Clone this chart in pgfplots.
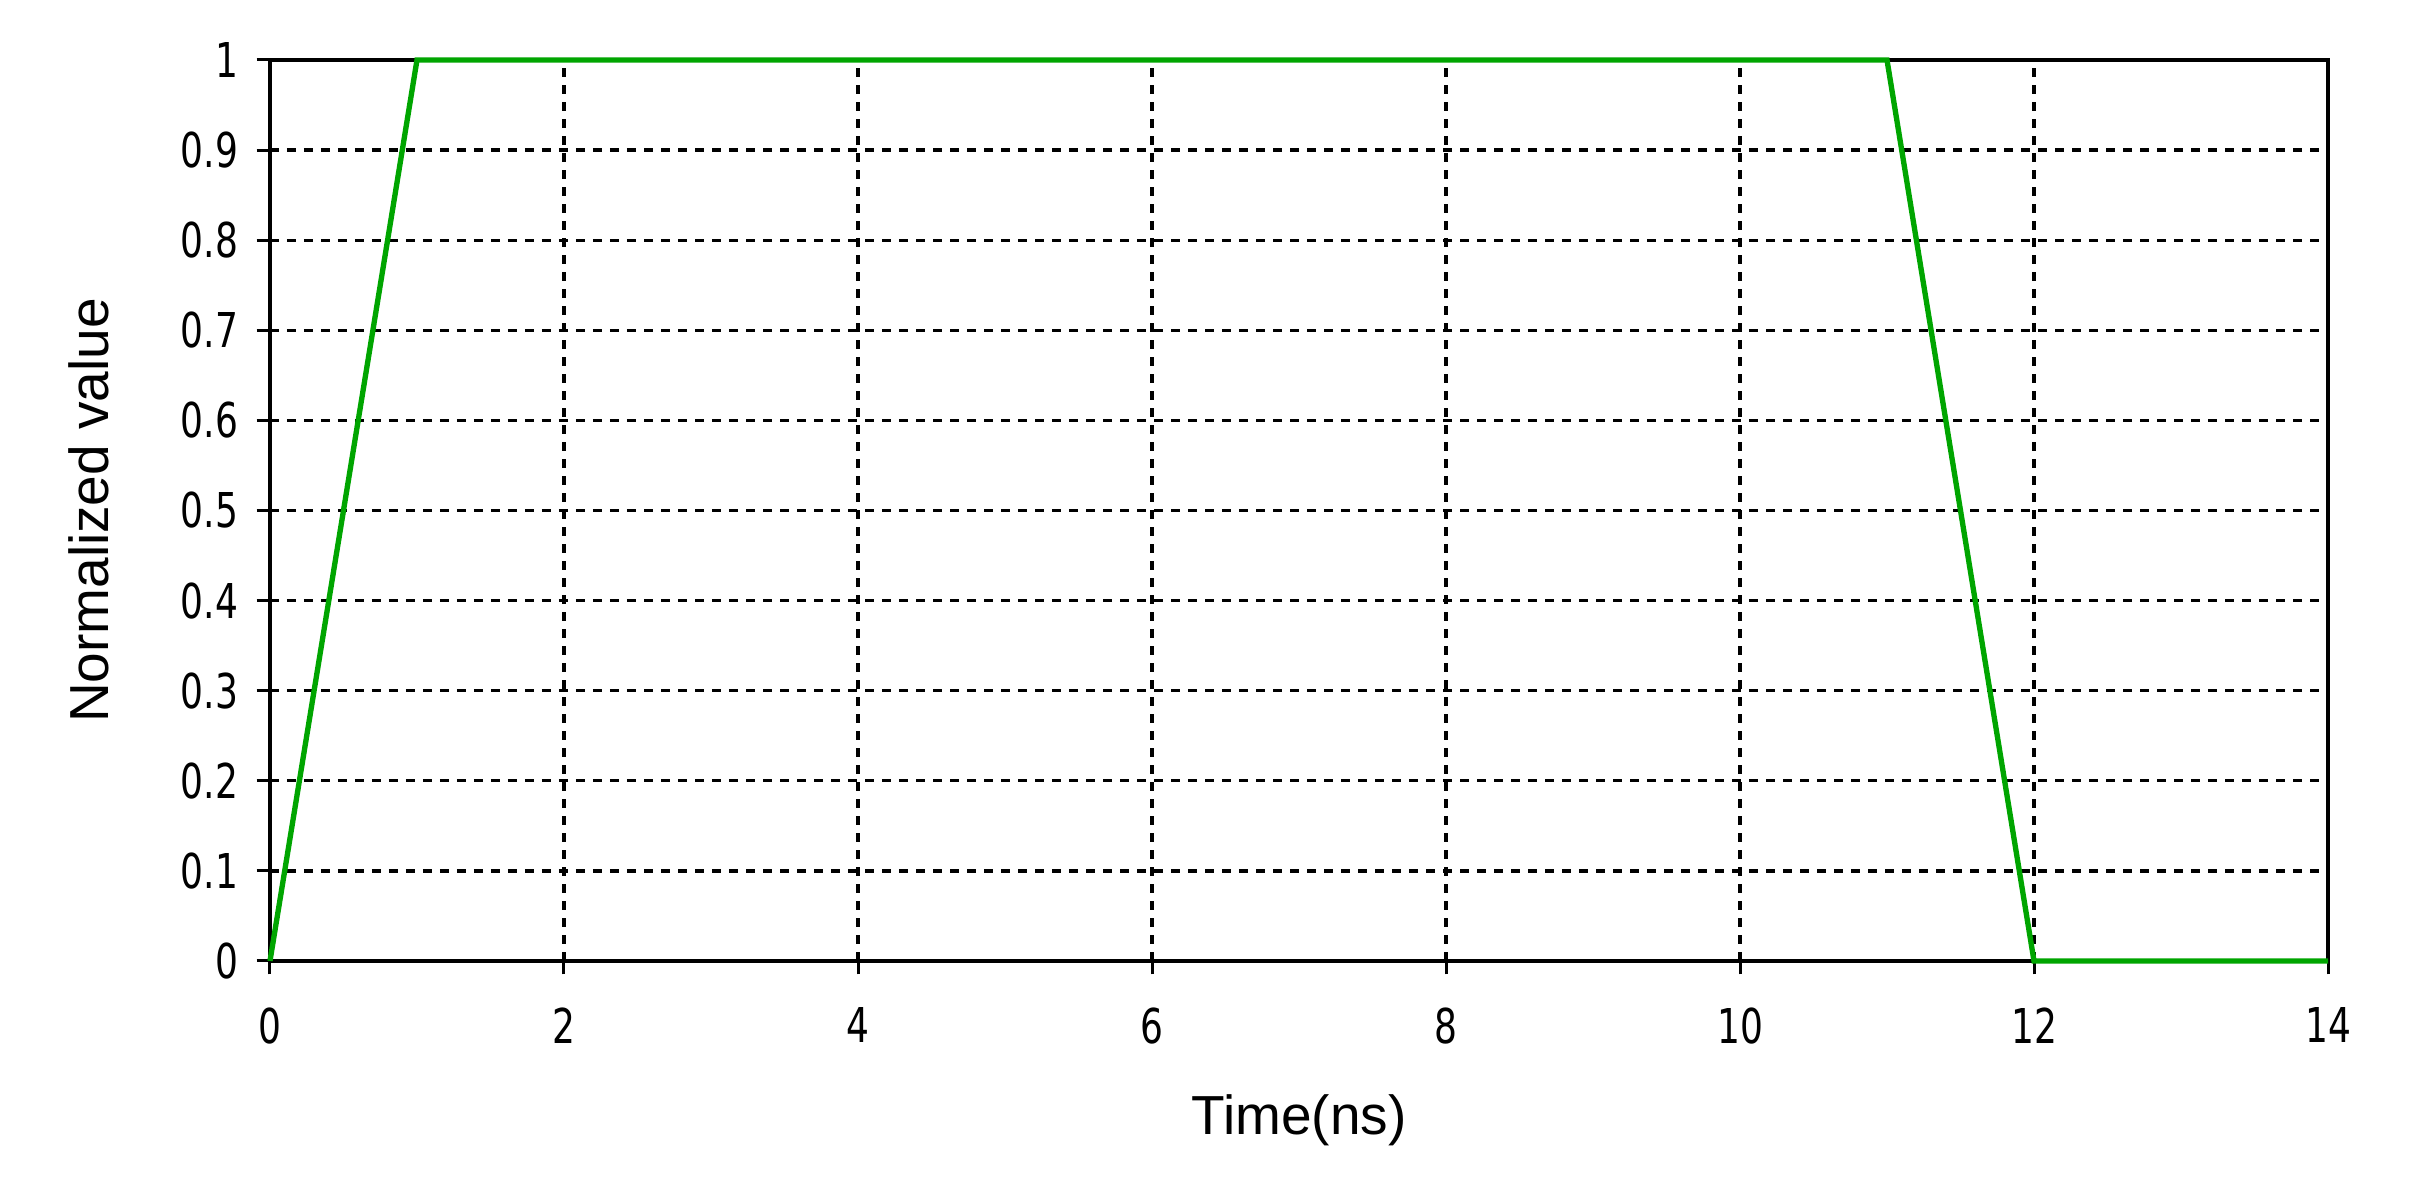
\documentclass[border=0pt]{standalone}
\usepackage{fontspec}
\setmainfont{Liberation Sans}
\newfontfamily\tickfont[FakeStretch=0.75]{DejaVu Sans}
\usepackage{pgfplots}
\pgfplotsset{compat=1.18}
\definecolor{sig}{RGB}{0,165,0}

\begin{document}
\begin{tikzpicture}
\begin{axis}[
    scale only axis,
    width=617.4pt, height=270.3pt,
    xmin=0, xmax=14,
    ymin=0, ymax=1,
    xtick={0,2,4,6,8,10,12,14},
    ytick={0,0.1,0.2,0.3,0.4,0.5,0.6,0.7,0.8,0.9,1},
    yticklabels={0,0.1,0.2,0.3,0.4,0.5,0.6,0.7,0.8,0.9,1},
    xtick pos=left, ytick pos=left,
    tick align=outside,
    major tick length=4pt,
    tick style={black, line width=0.9pt},
    axis line style={line width=1pt},
    grid=major,
    grid style={black, line width=1pt, dash pattern=on 2.6pt off 2.5pt},
    /pgf/number format/assume math mode=true,
    ticklabel style={font=\tickfont\fontsize{14.4}{14.4}\selectfont},
    xticklabel style={yshift=-6.5pt},
    yticklabel style={xshift=-2pt},
    xlabel={Time(ns)},
    ylabel={Normalized value},
    label style={font=\fontsize{16.5}{16.5}\selectfont},
    xlabel style={at={(axis description cs:0.5,-0.177)}, anchor=center},
    ylabel style={at={(axis description cs:-0.088,0.5)}, anchor=center},
    clip=false,
]
\addplot[sig, line width=1.6pt] coordinates {
    (0,0) (1,1) (11,1) (12,0) (14,0)
};
\coordinate (O) at (rel axis cs:0,0);
\coordinate (NE) at (rel axis cs:1,1);
\end{axis}
\path ([shift={(-81pt,-64.8pt)}]O) rectangle ([shift={(24.3pt,18pt)}]NE);
\end{tikzpicture}
\end{document}
